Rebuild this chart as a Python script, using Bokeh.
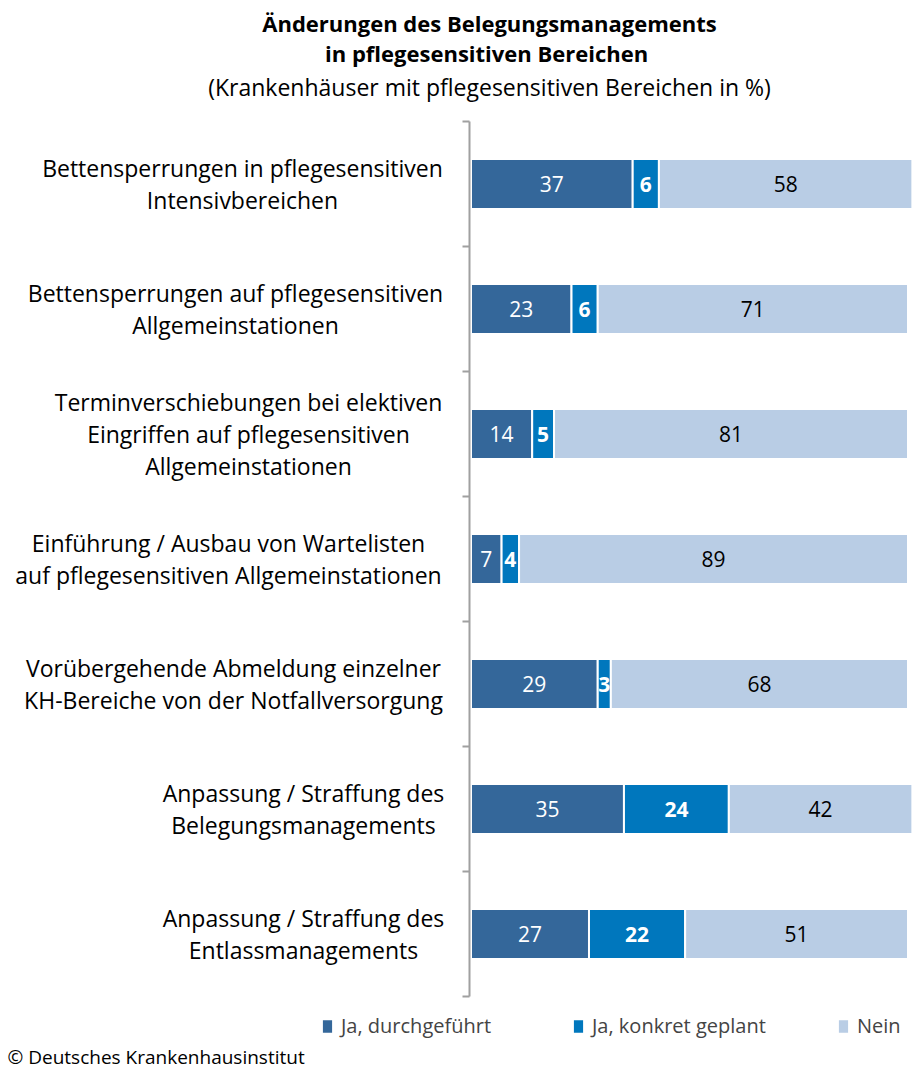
from bokeh.plotting import figure
from bokeh.models import (ColumnDataSource, Range1d, FixedTicker, Label, LabelSet,
                          Legend, LegendItem, CustomLabelingPolicy)
from bokeh.core.properties import value
from bokeh.embed import file_html
from bokeh.resources import INLINE

# ---------------- data ----------------
categories = [
    "Bettensperrungen in pflegesensitiven\nIntensivbereichen",
    "Bettensperrungen auf pflegesensitiven\nAllgemeinstationen",
    "Terminverschiebungen bei elektiven\nEingriffen auf pflegesensitiven\nAllgemeinstationen",
    "Einführung / Ausbau von Wartelisten\nauf pflegesensitiven Allgemeinstationen",
    "Vorübergehende Abmeldung einzelner\nKH-Bereiche von der Notfallversorgung",
    "Anpassung / Straffung des\nBelegungsmanagements",
    "Anpassung / Straffung des\nEntlassmanagements",
]
series_names = ["Ja, durchgeführt", "Ja, konkret geplant", "Nein"]
ja_durchgefuehrt = [37, 23, 14, 7, 29, 35, 27]
ja_geplant = [6, 6, 5, 4, 3, 24, 22]
nein = [58, 71, 81, 89, 68, 42, 51]

title_lines = ["Änderungen des Belegungsmanagements", "in pflegesensitiven  Bereichen"]
subtitle = "(Krankenhäuser mit pflegesensitiven Bereichen in %)"
footer = "© Deutsches Krankenhausinstitut"

# ---------------- layout / style ----------------
W, H = 913, 1070
AXIS_PX, AXIS_TOP_PX, AXIS_BOTTOM_PX = 469, 121, 996
X0_PX, PX_PER_UNIT = 470.5, 4.37
LABEL_CX_PX = [242, 235, 248, 228, 233, 303, 303]
LEGEND_X_PX = [320, 571, 836]
COLORS = ["#34679A", "#0077BD", "#B9CDE5"]
FONT = "Open Sans"

n = len(categories)
row_px = (AXIS_BOTTOM_PX - AXIS_TOP_PX) / n


def px2x(px):
    return (px - X0_PX) / PX_PER_UNIT


def py2y(py):
    return (py - AXIS_TOP_PX) / row_px


p = figure(width=W, height=H, output_backend="svg", toolbar_location=None,
           x_range=Range1d(px2x(0), px2x(W)),
           y_range=Range1d(py2y(H), py2y(0)), x_axis_type=None,
           min_border=0)
p.outline_line_color = None
p.ygrid.visible = False
p.background_fill_color = "white"
p.border_fill_color = "white"

yax = p.yaxis[0]
yax.fixed_location = px2x(AXIS_PX)
yax.bounds = (0, n)
yax.ticker = FixedTicker(ticks=list(range(n + 1)))
yax.major_label_policy = CustomLabelingPolicy(code="return []")
yax.major_tick_in = 0
yax.major_tick_out = 7
yax.minor_tick_line_color = None
yax.axis_line_color = "#A0A0A0"
yax.axis_line_width = 2
yax.major_tick_line_color = "#A0A0A0"
yax.major_tick_line_width = 2

ys = [i + 0.5 for i in range(n)]
mid1 = [a / 2 for a in ja_durchgefuehrt]
mid2 = [a + b / 2 for a, b in zip(ja_durchgefuehrt, ja_geplant)]
mid3 = [a + b + c / 2 for a, b, c in zip(ja_durchgefuehrt, ja_geplant, nein)]
src = ColumnDataSource(dict(
    y=ys, ja=ja_durchgefuehrt, geplant=ja_geplant, nein=nein,
    mid1=mid1, mid2=mid2, mid3=mid3,
    t1=[str(v) for v in ja_durchgefuehrt], t2=[str(v) for v in ja_geplant],
    t3=[str(v) for v in nein]))

renderers = p.hbar_stack(["ja", "geplant", "nein"], y="y", height=0.4,
                         fill_color=COLORS, line_color="white", line_width=2,
                         source=src)

for mid, txt, col, style in [("mid1", "t1", "white", "normal"),
                             ("mid2", "t2", "white", "bold"),
                             ("mid3", "t3", "black", "normal")]:
    p.add_layout(LabelSet(x=mid, y="y", text=txt, source=src,
                          text_align="center", text_baseline="middle",
                          text_color=col, text_font=value(FONT),
                          text_font_style=style, text_font_size="21px"))

# category labels
cat_src = ColumnDataSource(dict(x=[px2x(c) for c in LABEL_CX_PX], y=ys, text=categories))
p.text(x="x", y="y", text="text", source=cat_src, text_align="center",
       text_baseline="middle", text_font=value(FONT), text_font_size="23px",
       text_line_height=1.0, text_color="black")

# title
TITLE_CX = 489
for txt, py in zip(title_lines, [22, 52]):
    p.add_layout(Label(x=px2x(TITLE_CX), y=py2y(py), text=txt,
                       text_align="center", text_baseline="middle",
                       text_font=FONT, text_font_size="22px",
                       text_font_style="bold", text_color="black"))
p.add_layout(Label(x=px2x(TITLE_CX), y=py2y(86), text=subtitle,
                   text_align="center", text_baseline="middle",
                   text_font=FONT, text_font_size="23px", text_color="black"))

# footer
p.add_layout(Label(x=px2x(7), y=py2y(1056), text=footer,
                   text_align="left", text_baseline="middle",
                   text_font=FONT, text_font_size="19px", text_color="black"))

# legends
for r, name, lx in zip(renderers, series_names, LEGEND_X_PX):
    leg = Legend(items=[LegendItem(label=name, renderers=[r])],
                 location=(lx, 31), orientation="horizontal",
                 padding=0, margin=0, spacing=0, border_line_color=None,
                 background_fill_alpha=0, glyph_width=14, glyph_height=18,
                 label_standoff=7, label_text_font=FONT,
                 label_text_font_size="20px")
    p.add_layout(leg, "center")

open("out.html", "w").write(file_html(p, INLINE))
